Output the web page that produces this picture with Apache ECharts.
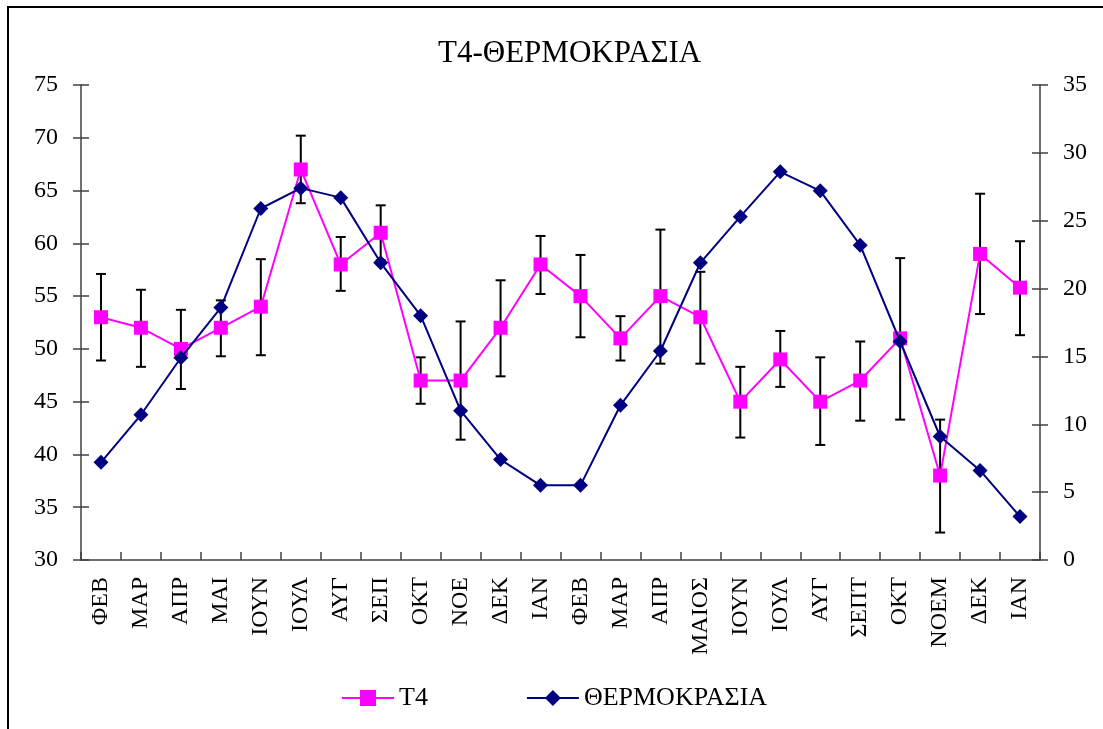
<!DOCTYPE html>
<html>
<head>
<meta charset="utf-8">
<title>T4-ΘΕΡΜΟΚΡΑΣΙΑ</title>
<script src="https://cdn.jsdelivr.net/npm/echarts@6/dist/echarts.min.js"></script>
<style>
  html, body { margin: 0; padding: 0; background: #fff; }
  #main { width: 1103px; height: 729px; }
</style>
</head>
<body>
<div id="main"></div>
<script>
// months on the category axis (two seasons)
var months = ['ΦΕΒ', 'ΜΑΡ', 'ΑΠΡ', 'ΜΑΙ', 'ΙΟΥΝ', 'ΙΟΥΛ', 'ΑΥΓ', 'ΣΕΠ', 'ΟΚΤ', 'ΝΟΕ', 'ΔΕΚ', 'ΙΑΝ',
              'ΦΕΒ', 'ΜΑΡ', 'ΑΠΡ', 'ΜΑΙΟΣ', 'ΙΟΥΝ', 'ΙΟΥΛ', 'ΑΥΓ', 'ΣΕΠΤ', 'ΟΚΤ', 'ΝΟΕΜ', 'ΔΕΚ', 'ΙΑΝ'];

// T4 (left axis) with error bar ends
var t4 = [53, 52, 50, 52, 54, 67, 58, 61, 47, 47, 52, 58, 55, 51, 55, 53, 45, 49, 45, 47, 51, 38, 59, 55.8];
var t4High = [57.1, 55.6, 53.7, 54.6, 58.5, 70.2, 60.6, 63.6, 49.2, 52.6, 56.5, 60.7,
              58.9, 53.1, 61.3, 57.3, 48.3, 51.7, 49.2, 50.7, 58.6, 43.3, 64.7, 60.2];
var t4Low = [48.9, 48.3, 46.2, 49.3, 49.4, 63.8, 55.5, 58.4, 44.8, 41.4, 47.4, 55.2,
             51.1, 48.9, 48.6, 48.6, 41.6, 46.4, 40.9, 43.2, 43.3, 32.6, 53.3, 51.3];

// temperature (right axis)
var temp = [7.2, 10.7, 14.9, 18.6, 25.9, 27.4, 26.7, 21.9, 18.0, 11.0, 7.4, 5.5,
            5.5, 11.4, 15.4, 21.9, 25.3, 28.6, 27.2, 23.2, 16.1, 9.1, 6.6, 3.2];

var FONT = 'Liberation Serif';
var AXIS_COLOR = '#404040';

var chart = echarts.init(document.getElementById('main'));

function errorBar(params, api) {
    var x = api.value(0);
    var hi = api.coord([x, api.value(2)]);
    var lo = api.coord([x, api.value(1)]);
    var w = 5;
    var st = { stroke: '#000', lineWidth: 2 };
    return {
        type: 'group',
        children: [
            { type: 'line', shape: { x1: hi[0], y1: hi[1], x2: lo[0], y2: lo[1] }, style: st },
            { type: 'line', shape: { x1: hi[0] - w, y1: hi[1], x2: hi[0] + w, y2: hi[1] }, style: st },
            { type: 'line', shape: { x1: lo[0] - w, y1: lo[1], x2: lo[0] + w, y2: lo[1] }, style: st }
        ]
    };
}

var tickStyle = { color: AXIS_COLOR, width: 1.5 };

chart.setOption({
    animation: false,
    backgroundColor: '#fff',
    title: {
        text: 'T4-ΘΕΡΜΟΚΡΑΣΙΑ',
        left: 438,
        top: 38,
        padding: 0,
        textStyle: { fontFamily: FONT, fontSize: 31, fontWeight: 'normal', color: '#000' }
    },
    graphic: [{
        type: 'rect',
        shape: { x: 8, y: 7, width: 1300, height: 900 },
        style: { fill: 'none', stroke: '#000', lineWidth: 2 },
        silent: true
    }],
    legend: {
        data: ['T4', 'ΘΕΡΜΟΚΡΑΣΙΑ'],
        left: 336,
        top: 680,
        itemWidth: 52,
        itemHeight: 20,
        itemGap: 98,
        textStyle: { fontFamily: FONT, fontSize: 26, color: '#000' }
    },
    grid: { left: 81, right: 63, top: 85, bottom: 169 },
    xAxis: [{
        type: 'category',
        data: months,
        position: 'bottom',
        axisLine: { onZero: false, lineStyle: tickStyle },
        axisTick: { interval: 0, length: 8, lineStyle: tickStyle },
        axisLabel: { rotate: 90, margin: 17, fontFamily: FONT, fontSize: 24, color: '#000', interval: 0 }
    }, {
        type: 'category',
        data: months,
        position: 'bottom',
        axisLine: { show: false, onZero: false },
        axisTick: { show: true, interval: 0, inside: true, length: 8, lineStyle: tickStyle },
        axisLabel: { show: false, interval: 0 }
    }],
    yAxis: [{
        type: 'value', min: 30, max: 75, interval: 5, position: 'left',
        splitLine: { show: false },
        axisLine: { show: true, lineStyle: tickStyle },
        axisTick: { show: true, length: 8, lineStyle: tickStyle },
        axisLabel: { margin: 23, fontFamily: FONT, fontSize: 24, color: '#000' }
    }, {
        type: 'value', min: 0, max: 35, interval: 5, position: 'right',
        splitLine: { show: false },
        axisLine: { show: true, lineStyle: tickStyle },
        axisTick: { show: true, length: 8, lineStyle: tickStyle },
        axisLabel: { margin: 23, fontFamily: FONT, fontSize: 24, color: '#000' }
    }, {
        type: 'value', min: 30, max: 75, interval: 5, position: 'left',
        splitLine: { show: false },
        axisLine: { show: false },
        axisTick: { show: true, inside: true, length: 8, lineStyle: tickStyle },
        axisLabel: { show: false }
    }, {
        type: 'value', min: 0, max: 35, interval: 5, position: 'right',
        splitLine: { show: false },
        axisLine: { show: false },
        axisTick: { show: true, inside: true, length: 8, lineStyle: tickStyle },
        axisLabel: { show: false }
    }],
    series: [{
        name: 'err',
        type: 'custom',
        xAxisIndex: 0,
        yAxisIndex: 0,
        renderItem: errorBar,
        encode: { x: 0, y: [1, 2] },
        data: t4Low.map(function (v, i) { return [i, v, t4High[i]]; }),
        z: 2
    }, {
        name: 'T4',
        type: 'line',
        xAxisIndex: 0,
        yAxisIndex: 0,
        symbol: 'rect',
        symbolSize: 14,
        itemStyle: { color: '#FF00FF' },
        lineStyle: { color: '#FF00FF', width: 2 },
        data: t4,
        z: 3
    }, {
        name: 'ΘΕΡΜΟΚΡΑΣΙΑ',
        type: 'line',
        xAxisIndex: 0,
        yAxisIndex: 1,
        symbol: 'diamond',
        symbolSize: 15,
        itemStyle: { color: '#000080' },
        lineStyle: { color: '#000080', width: 2 },
        data: temp,
        z: 4
    }, {
        // empty series so the inner-tick axes get drawn
        name: 'ticksL',
        type: 'line',
        xAxisIndex: 1,
        yAxisIndex: 2,
        data: [],
        silent: true
    }, {
        name: 'ticksR',
        type: 'line',
        xAxisIndex: 1,
        yAxisIndex: 3,
        data: [],
        silent: true
    }]
});
</script>
</body>
</html>
